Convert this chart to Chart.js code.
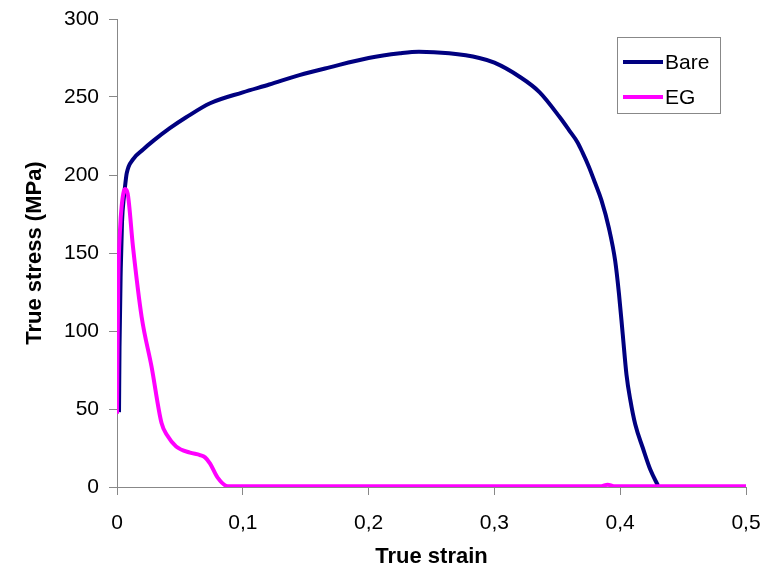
<!DOCTYPE html>
<html>
<head>
<meta charset="utf-8">
<script src="https://cdn.jsdelivr.net/npm/chart.js@4.4.1/dist/chart.umd.min.js"></script>
<style>
html,body{margin:0;padding:0;background:#fff;}
#wrap{width:769px;height:577px;position:relative;}
</style>
</head>
<body>
<div id="wrap"><canvas id="c" width="769" height="577"></canvas></div>
<script>
const seriesNames = ["Bare", "EG"];
const xTitle = "True strain";
const yTitle = "True stress (MPa)";
const xTickLabels = ["0", "0,1", "0,2", "0,3", "0,4", "0,5"];
const yTickLabels = ["0", "50", "100", "150", "200", "250", "300"];

const bareStrain = [0.0016, 0.002, 0.003, 0.004, 0.0055, 0.0063, 0.0077, 0.0127, 0.021, 0.029, 0.042, 0.055, 0.074, 0.100, 0.121, 0.145, 0.169, 0.200, 0.225, 0.240, 0.264, 0.288, 0.300, 0.320, 0.336, 0.352, 0.360, 0.366, 0.370, 0.375, 0.380, 0.385, 0.391, 0.396, 0.399, 0.402, 0.405, 0.408, 0.412, 0.418, 0.424, 0.430];
const bareStress = [48, 90, 140, 170, 186, 192, 201, 210, 216.5, 222, 230, 237, 246, 253, 258, 264, 269, 275, 278, 279, 278, 275, 272, 263, 253, 237, 228, 221, 214.5, 205.5, 195, 184, 166, 145, 124, 98, 72, 56, 40, 25, 11, 1];

const egStrain = [0.0, 0.001, 0.0024, 0.0037, 0.0063, 0.0085, 0.0127, 0.0196, 0.0275, 0.0354, 0.040, 0.047, 0.058, 0.066, 0.070, 0.074, 0.080, 0.088, 0.15, 0.25, 0.35, 0.385, 0.39, 0.395, 0.45, 0.5];
const egStress = [47, 131, 165, 180, 191, 188, 154, 109, 77, 41, 33, 26, 22, 20.5, 19, 15, 6, 0.5, 0.5, 0.5, 0.5, 0.5, 1.5, 0.5, 0.5, 0.5];

const xs = [0, 0.1, 0.2, 0.3, 0.4, 0.5];

function pts(xa, ya){ return xa.map((x,i)=>({x:x, y:ya[i]})); }

const FONT = "'Liberation Sans', Arial, sans-serif";

const legendPlugin = {
  id: 'boxLegend',
  afterDraw(chart){
    const ctx = chart.ctx;
    const x0 = 617, y0 = 37, w = 103, h = 76;
    ctx.save();
    ctx.fillStyle = '#fff';
    ctx.fillRect(x0, y0, w, h);
    ctx.strokeStyle = '#888';
    ctx.lineWidth = 1;
    ctx.strokeRect(x0 + 0.5, y0 + 0.5, w, h);
    ctx.font = "21px " + FONT;
    ctx.textBaseline = 'middle';
    chart.data.datasets.forEach((ds, i) => {
      const cy = y0 + 25 + i * 35;
      ctx.strokeStyle = ds.borderColor;
      ctx.lineWidth = 4;
      ctx.beginPath();
      ctx.moveTo(x0 + 6, cy);
      ctx.lineTo(x0 + 46, cy);
      ctx.stroke();
      ctx.fillStyle = '#000';
      ctx.fillText(ds.label, x0 + 48, cy + 1);
    });
    ctx.restore();
  }
};

new Chart(document.getElementById('c'), {
  type: 'scatter',
  data: {
    datasets: [
      { label: seriesNames[0], data: pts(bareStrain, bareStress), showLine: true, borderColor: '#000080', backgroundColor: '#000080', borderWidth: 4, pointRadius: 0, cubicInterpolationMode: 'monotone', order: 2 },
      { label: seriesNames[1], data: pts(egStrain, egStress), showLine: true, borderColor: '#FF00FF', backgroundColor: '#FF00FF', borderWidth: 4, pointRadius: 0, cubicInterpolationMode: 'monotone', order: 1 }
    ]
  },
  options: {
    responsive: false,
    animation: false,
    layout: { padding: { left: 0, right: 23, top: 19, bottom: 0 } },
    plugins: { legend: { display: false }, tooltip: { enabled: false } },
    scales: {
      x: {
        type: 'linear', min: 0, max: 0.5,
        afterBuildTicks(s){ s.ticks = xs.map(v=>({value:v})); },
        afterFit(s){ s.height = 90; s.paddingLeft = 0; s.paddingRight = 0; },
        ticks: { font: { family: FONT, size: 21 }, color: '#000', padding: 16,
          callback: (v, i) => xTickLabels[i] },
        grid: { display: true, drawOnChartArea: false, drawTicks: true, tickLength: 8, color: '#888' },
        border: { display: true, color: '#888', width: 1 },
        title: { display: true, text: xTitle, font: { family: FONT, size: 22, weight: 'bold' }, color: '#000', padding: { top: 0, bottom: 7 } }
      },
      y: {
        type: 'linear', min: 0, max: 300,
        afterBuildTicks(s){ s.ticks = yTickLabels.map(v=>({value:+v})); },
        afterFit(s){ s.width = 117; s.paddingTop = 0; s.paddingBottom = 0; },
        ticks: { font: { family: FONT, size: 21 }, color: '#000', padding: 10,
          callback: (v, i) => yTickLabels[i] },
        grid: { display: true, drawOnChartArea: false, drawTicks: true, tickLength: 8, color: '#888' },
        border: { display: true, color: '#888', width: 1 },
        title: { display: true, text: yTitle, font: { family: FONT, size: 22, weight: 'bold' }, color: '#000', padding: { bottom: 0, top: 22 } }
      }
    }
  },
  plugins: [legendPlugin]
});
</script>
</body>
</html>
